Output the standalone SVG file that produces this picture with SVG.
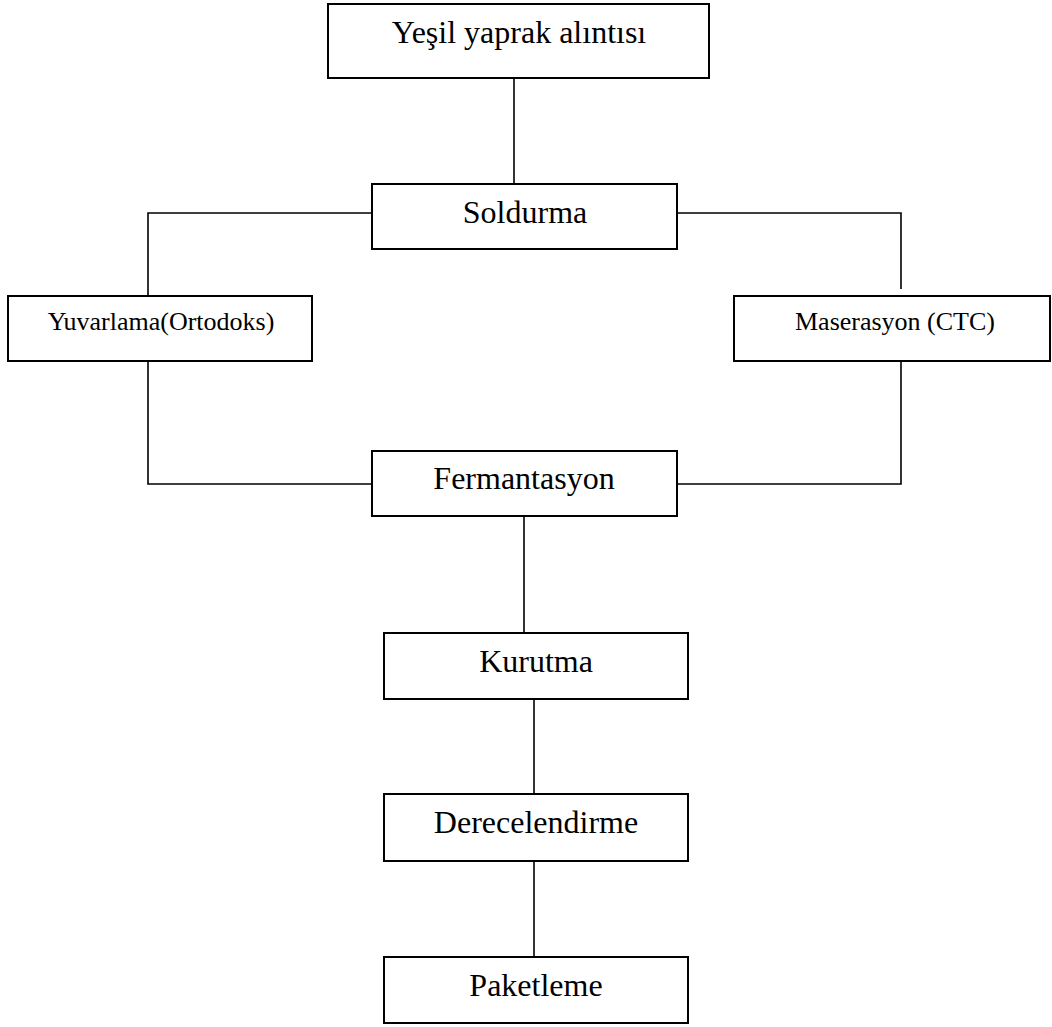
<svg xmlns="http://www.w3.org/2000/svg" width="1052" height="1027" viewBox="0 0 1052 1027">
<style>
.box{fill:#fff;stroke:#000;stroke-width:2}
.lbl{font-family:"Liberation Serif","Times New Roman",serif;fill:#000;text-anchor:middle}
.big{font-size:32px}
.small{font-size:26px}
.conn{fill:none;stroke:#000;stroke-width:1.6}
</style>
<rect width="1052" height="1027" fill="#fff"/>
<g id="connectors">
<line class="conn" x1="514" y1="78" x2="514" y2="184"/>
<polyline class="conn" points="372,213 148,213 148,296"/>
<polyline class="conn" points="677,213 901,213 901,289"/>
<polyline class="conn" points="148,361 148,484 372,484"/>
<polyline class="conn" points="901,361 901,484 677,484"/>
<line class="conn" x1="524" y1="516" x2="524" y2="633"/>
<line class="conn" x1="534" y1="699" x2="534" y2="794"/>
<line class="conn" x1="534" y1="861" x2="534" y2="957"/>
</g>
<g id="n1"><rect class="box" x="328" y="4" width="381" height="74"/><text class="lbl big" x="519" y="43">Yeşil yaprak alıntısı</text></g>
<g id="n2"><rect class="box" x="372" y="184" width="305" height="65"/><text class="lbl big" x="525" y="223">Soldurma</text></g>
<g id="n3"><rect class="box" x="8" y="296" width="304" height="65"/><text class="lbl small" x="161" y="330">Yuvarlama(Ortodoks)</text></g>
<g id="n4"><rect class="box" x="734" y="296" width="316" height="65"/><text class="lbl small" x="895" y="330">Maserasyon (CTC)</text></g>
<g id="n5"><rect class="box" x="372" y="451" width="305" height="65"/><text class="lbl big" x="524" y="489">Fermantasyon</text></g>
<g id="n6"><rect class="box" x="384" y="633" width="304" height="66"/><text class="lbl big" x="536" y="672">Kurutma</text></g>
<g id="n7"><rect class="box" x="384" y="794" width="304" height="67"/><text class="lbl big" x="536" y="833">Derecelendirme</text></g>
<g id="n8"><rect class="box" x="384" y="957" width="304" height="66"/><text class="lbl big" x="536" y="996">Paketleme</text></g>
</svg>
